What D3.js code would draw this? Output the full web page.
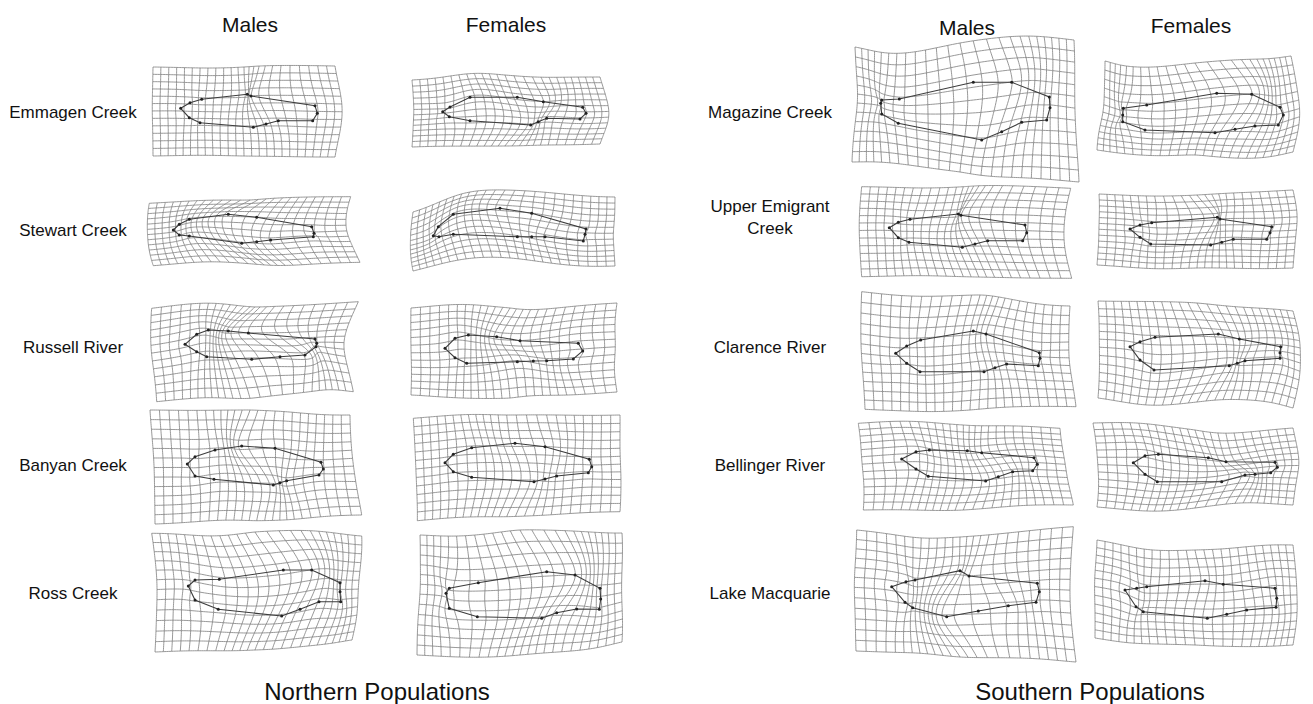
<!DOCTYPE html>
<html>
<head>
<meta charset="utf-8">
<script src="https://cdn.jsdelivr.net/npm/d3@7"></script>
<style>
  body { margin: 0; background: #fff; }
  svg { display: block; }
  text { font-family: "Liberation Sans", Arial, Helvetica, sans-serif; fill: #111; }
</style>
</head>
<body>
<svg id="fig" width="1313" height="704"></svg>
<script>
// ---------------------------------------------------------------------------
// Populations, sexes and region titles
// ---------------------------------------------------------------------------
const regionTitles = ["Northern Populations", "Southern Populations"];
const sexes = ["Males", "Females"];
const northPopulations = ["Emmagen Creek", "Stewart Creek", "Russell River", "Banyan Creek", "Ross Creek"];
const southPopulations = ["Magazine Creek", "Upper Emigrant Creek", "Clarence River", "Bellinger River", "Lake Macquarie"];
const southLabelLines = [["Magazine Creek"], ["Upper Emigrant", "Creek"], ["Clarence River"], ["Bellinger River"], ["Lake Macquarie"]];

// ---------------------------------------------------------------------------
// Landmark configurations (13 landmarks, clockwise from the snout tip:
// snout, upper snout, head, dorsal A, dorsal B, caudal top, caudal mid,
// caudal bottom, anal end, anal mid, anal origin, pelvic, lower head).
// Units: panel units, relative to the panel centre.
// Frames: deformation-grid outline points TL, TM, TR, BL, BM, BR.
// ---------------------------------------------------------------------------
const emmagenMales = [[-63.3,-3.7],[-54,-9.3],[-42.3,-12.7],[3.3,-17.7],[7,-16],[71,-6.3],[73.3,1.3],[68.7,8.7],[34.3,8.7],[22,12],[9.3,15.3],[-44,10.7],[-54.7,5.7]];
const emmagenMalesFrame = [[-91,-45],[0,-45],[91,-46],[-91,44],[0,44],[91,45]];
const emmagenFemales = [[-62.3,-0.3],[-55,-5],[-35,-14.7],[12.3,-14.7],[38.3,-10.3],[77.7,-4.7],[81,1.3],[75,7],[41.7,6.3],[33.3,9.7],[25.7,13],[-35,8.7],[-55.7,4.7]];
const emmagenFemalesFrame = [[-93,-32],[0,-37],[95,-35],[-93,35],[0,34],[95,32]];

const stewartMales = [[-70.7,0],[-64.7,-5.7],[-54.7,-10.7],[-15.7,-15.7],[12.7,-12.7],[67.7,-3.3],[70,3.3],[69.3,6.7],[26.7,10],[12.7,11.7],[-2.3,13.3],[-54.7,6],[-64.7,5]];
const stewartMalesFrame = [[-94.7,-26.7],[6,-30],[106.7,-33.3],[-90.7,35.7],[12.7,34.3],[116,32.3]];
const stewartFemales = [[-71.7,5.7],[-66.7,-3.3],[-51.7,-15.7],[-5,-21.7],[26.7,-16.7],[81,-1],[80,4.3],[78.3,11],[40,6.7],[26.7,6.7],[12.3,6.7],[-51.7,4.3],[-66,6.7]];
const stewartFemalesFrame = [[-92,-18],[0,-40],[110,-33],[-92,41],[5,28],[110,36]];

const russellMales = [[-59,-2.7],[-47.3,-12.7],[-35.7,-17],[-15.7,-16],[4.3,-14],[71,-8],[72.7,-3.7],[72,-0.3],[61,8],[36,9.7],[7.7,12.3],[-37.3,9.7],[-47.3,4.7]];
const russellMalesFrame = [[-92.3,-38.7],[6,-40.3],[114.3,-45.3],[-87.3,54.7],[6,51.3],[109.3,44.7]];
const russellFemales = [[-60,1.3],[-50,-8.7],[-36.7,-12],[-8.3,-10.3],[15,-6.3],[73.3,-3.7],[77.7,4],[68.3,12],[41.7,13.7],[28.3,14],[12.3,14.7],[-38.3,16.3],[-50,10.7]];
const russellFemalesFrame = [[-94,-39],[5,-39],[112,-44],[-94,48],[5,51],[112,45]];

const banyanMales = [[-56.7,-1],[-49,-8.3],[-29,-15],[-2.3,-19],[31,-16.7],[77,-2.7],[79.3,4],[75,10],[42.7,15.7],[36,17.7],[29.3,20],[-30,14.3],[-49,11]];
const banyanMalesFrame = [[-94,-55],[6,-55],[106,-50],[-89,59],[12.7,55.7],[117.7,50]];
const banyanFemales = [[-60,-2.3],[-51.7,-10.7],[-33.3,-17.3],[10,-21.7],[40,-18.3],[84.3,-5.7],[86.7,1.7],[83.3,7.7],[51.7,11],[40,14],[29,16.7],[-33.3,12.3],[-51.7,6.7]];
const banyanFemalesFrame = [[-91.7,-46.7],[1.7,-50],[115,-50],[-87.7,55.7],[1.7,51.7],[115,46.7]];

const rossMales = [[-55.7,-7],[-49,-13],[-24.7,-13.7],[39.3,-23],[67.7,-23],[96,-10.3],[96,-1.3],[96.7,8.7],[75,8.7],[56,16.3],[37.7,23],[-25.7,16.3],[-49,7]];
const rossMalesFrame = [[-92.3,-59.7],[11,-61],[117.7,-57],[-89,59],[11,57],[108,47]];
const rossFemales = [[-59,0.3],[-55.7,-4.7],[-26.7,-10.3],[41.7,-21.3],[70,-18],[95,-4.7],[95.7,6],[94.3,16.3],[71.7,16],[51.7,19.7],[36.7,25.3],[-27.7,23.7],[-55.7,15.3]];
const rossFemalesFrame = [[-85,-58],[15,-63],[117,-60],[-88,62],[15,62],[117,49]];

const magazineMales = [[-84.3,-8.7],[-83.3,-12],[-65.7,-13],[8.3,-29.7],[46.7,-29.7],[84.3,-15],[85,-4.3],[81.7,8],[56.7,10.3],[36.7,19.7],[16.7,28],[-66.7,11.3],[-83.3,2]];
const magazineMalesFrame = [[-110,-65],[-5,-69],[109,-72],[-113,50],[-5,60],[114,70]];
const magazineFemales = [[-72.3,3],[-71.7,-3.7],[-48.3,-7],[21.7,-18.7],[56.7,-17.7],[85,-4.7],[88.3,3],[83.3,13],[60,14],[40,17.3],[20,20.7],[-50,18],[-72.3,9.7]];
const magazineFemalesFrame = [[-90,-51],[0,-49],[96,-56],[-98,38],[0,43],[98,40]];

const upperEmigrantMales = [[-75.7,-2.3],[-66.7,-7.7],[-55,-10.7],[-6.7,-16],[-4,-14.7],[60,-5],[61.7,2.7],[57.7,10.7],[22.7,10.7],[10,14],[-2.7,17.3],[-56,12.3],[-66.7,7.7]];
const upperEmigrantMalesFrame = [[-103.3,-43.3],[-1.7,-43.3],[105.7,-41.7],[-103.3,46.7],[-1.7,46.7],[106.7,48.3]];
const upperEmigrantFemales = [[-65,-1],[-55,-5],[-43.3,-7.3],[22.3,-12.7],[25,-11],[76.7,-3.3],[75,2.7],[71.7,9.3],[38.3,9.3],[26.7,12.3],[15.7,15],[-44.3,14],[-55,7.3]];
const upperEmigrantFemalesFrame = [[-96,-36],[2,-35],[98,-40],[-98,35],[2,38],[98,38]];

const clarenceMales = [[-69.3,6.3],[-58.3,-1],[-44.3,-7],[8.3,-16],[21,-13],[74.3,5.7],[75,11.3],[73.3,18.7],[41.7,17],[30,20.7],[19,24.7],[-45,24.7],[-58.3,16.3]];
const clarenceMalesFrame = [[-103.3,-55.3],[15,-52],[105,-41],[-100,62.3],[5,63],[111,59.7]];
const clarenceFemales = [[-65,-0.3],[-55,-5.3],[-40,-9.7],[23.3,-13],[44.3,-8],[85.7,-0.3],[85,5.7],[85,11.3],[50,13.7],[42.3,16.3],[34.3,18.7],[-41,23],[-55,13]];
const clarenceFemalesFrame = [[-97,-46],[2,-44],[98,-36],[-97,51],[2,55],[98,61]];

const bellingerMales = [[-63.3,-6],[-49,-13.3],[-35.7,-15],[2.3,-14.3],[16.7,-12.3],[69,-7.3],[72.3,-0.7],[67.7,5.7],[47.7,6.7],[33.3,11.7],[20.7,16],[-36.7,11.3],[-49,4]];
const bellingerMalesFrame = [[-106.7,-41.7],[-1.7,-40],[95,-36.7],[-101.7,45],[-1.7,45],[108.3,40]];
const bellingerFemales = [[-61.7,-2.3],[-50,-9.3],[-36.7,-10.7],[13.3,-7.3],[31,-3.3],[80,-2.7],[82.3,2.3],[75.7,7.7],[60,9.3],[50,10],[26.7,16.7],[-37.7,16.7],[-50,9.3]];
const bellingerFemalesFrame = [[-102,-42],[0,-35],[98,-37],[-98,42],[0,43],[98,40]];

const lakeMacquarieMales = [[-73.3,-6.3],[-59,-11.3],[-50,-13],[-5,-22.3],[4,-17],[72.3,-9.7],[74.3,-1.3],[71,9.3],[43.3,12.7],[13.3,18],[-18.3,23.7],[-52.3,14.7],[-60,9.3]];
const lakeMacquarieMalesFrame = [[-108.3,-63],[-5,-56],[108.3,-66.3],[-109,58],[-5,64],[111,69]];
const lakeMacquarieFemales = [[-70,-3],[-58.3,-4.7],[-48.3,-6.3],[10,-12.3],[28.3,-8.7],[80,-4.7],[81.7,5.3],[81,14.3],[51.7,17],[31.7,21.3],[12.3,25.3],[-51.7,18.7],[-59,13.7]];
const lakeMacquarieFemalesFrame = [[-98,-53],[0,-43],[98,-48],[-100,45],[0,52],[98,52]];

// Panels: region index, row index, sex, landmarks, grid frame
const panels = [
  [0, 0, "Males", emmagenMales, emmagenMalesFrame], [0, 0, "Females", emmagenFemales, emmagenFemalesFrame],
  [0, 1, "Males", stewartMales, stewartMalesFrame], [0, 1, "Females", stewartFemales, stewartFemalesFrame],
  [0, 2, "Males", russellMales, russellMalesFrame], [0, 2, "Females", russellFemales, russellFemalesFrame],
  [0, 3, "Males", banyanMales, banyanMalesFrame], [0, 3, "Females", banyanFemales, banyanFemalesFrame],
  [0, 4, "Males", rossMales, rossMalesFrame], [0, 4, "Females", rossFemales, rossFemalesFrame],
  [1, 0, "Males", magazineMales, magazineMalesFrame], [1, 0, "Females", magazineFemales, magazineFemalesFrame],
  [1, 1, "Males", upperEmigrantMales, upperEmigrantMalesFrame], [1, 1, "Females", upperEmigrantFemales, upperEmigrantFemalesFrame],
  [1, 2, "Males", clarenceMales, clarenceMalesFrame], [1, 2, "Females", clarenceFemales, clarenceFemalesFrame],
  [1, 3, "Males", bellingerMales, bellingerMalesFrame], [1, 3, "Females", bellingerFemales, bellingerFemalesFrame],
  [1, 4, "Males", lakeMacquarieMales, lakeMacquarieMalesFrame], [1, 4, "Females", lakeMacquarieFemales, lakeMacquarieFemalesFrame]
].map(([region, row, sex, lm, frame]) => ({ region, row, sex, lm, frame }));

// ---------------------------------------------------------------------------
// Layout
// ---------------------------------------------------------------------------
const GRID_COLS = 24, GRID_ROWS = 12;
const colCenter = d3.scaleOrdinal().domain(["0Males", "0Females", "1Males", "1Females"]).range([244, 505, 965, 1195]);
const headerCenter = d3.scaleOrdinal().domain(["0Males", "0Females", "1Males", "1Females"]).range([250, 506, 967, 1191]);
const headerBase = d3.scaleOrdinal().domain(["0Males", "0Females", "1Males", "1Females"]).range([32, 32, 35, 33]);
const rowCenter = d3.scaleOrdinal().domain([0, 1, 2, 3, 4]).range([112, 230, 347, 465, 593]);
const labelCenter = d3.scaleOrdinal().domain([0, 1]).range([73, 770]);
const titleCenter = d3.scaleOrdinal().domain([0, 1]).range([377, 1090]);

const svg = d3.select("#fig");

// ---------------------------------------------------------------------------
// Thin-plate spline
// ---------------------------------------------------------------------------
function solveLinear(A, B) {
  const N = A.length, k = B[0].length;
  const M = A.map((row, i) => row.concat(B[i]));
  for (let c = 0; c < N; c++) {
    let p = c;
    for (let r = c + 1; r < N; r++) if (Math.abs(M[r][c]) > Math.abs(M[p][c])) p = r;
    [M[c], M[p]] = [M[p], M[c]];
    const piv = M[c][c];
    for (let r = 0; r < N; r++) {
      if (r === c) continue;
      const f = M[r][c] / piv;
      if (f === 0) continue;
      for (let j = c; j < N + k; j++) M[r][j] -= f * M[c][j];
    }
  }
  return M.map((row, i) => row.slice(N).map(v => v / row[i]));
}

function thinPlate(src, dst) {
  const n = src.length, N = n + 3;
  const U = r2 => (r2 < 1e-12 ? 0 : r2 * Math.log(r2));
  const A = Array.from({ length: N }, () => new Array(N).fill(0));
  for (let i = 0; i < n; i++) {
    for (let j = 0; j < n; j++) {
      const dx = src[i][0] - src[j][0], dy = src[i][1] - src[j][1];
      A[i][j] = U(dx * dx + dy * dy);
    }
    A[i][n] = A[n][i] = 1;
    A[i][n + 1] = A[n + 1][i] = src[i][0];
    A[i][n + 2] = A[n + 2][i] = src[i][1];
  }
  const B = Array.from({ length: N }, (_, i) => (i < n ? [dst[i][0], dst[i][1]] : [0, 0]));
  const W = solveLinear(A, B);
  return ([u, v]) => {
    let x = W[n][0] + W[n + 1][0] * u + W[n + 2][0] * v;
    let y = W[n][1] + W[n + 1][1] * u + W[n + 2][1] * v;
    for (let i = 0; i < n; i++) {
      const dx = u - src[i][0], dy = v - src[i][1];
      const k = U(dx * dx + dy * dy);
      x += W[i][0] * k;
      y += W[i][1] * k;
    }
    return [x, y];
  };
}

// Inverse of the bilinear map spanned by a frame's four corners -> grid units
function toGridUnits(p, frame) {
  const [TL, , TR, BL, , BR] = frame;
  let s = 0.5, t = 0.5;
  for (let it = 0; it < 30; it++) {
    const px = (1 - s) * (1 - t) * TL[0] + s * (1 - t) * TR[0] + (1 - s) * t * BL[0] + s * t * BR[0];
    const py = (1 - s) * (1 - t) * TL[1] + s * (1 - t) * TR[1] + (1 - s) * t * BL[1] + s * t * BR[1];
    const dsx = (1 - t) * (TR[0] - TL[0]) + t * (BR[0] - BL[0]);
    const dsy = (1 - t) * (TR[1] - TL[1]) + t * (BR[1] - BL[1]);
    const dtx = (1 - s) * (BL[0] - TL[0]) + s * (BR[0] - TR[0]);
    const dty = (1 - s) * (BL[1] - TL[1]) + s * (BR[1] - TR[1]);
    const det = dsx * dty - dsy * dtx;
    const ex = p[0] - px, ey = p[1] - py;
    s += (ex * dty - ey * dtx) / det;
    t += (dsx * ey - dsy * ex) / det;
  }
  return [s * GRID_COLS, t * GRID_ROWS];
}

// Consensus configuration: mean landmark position in grid units
const nLm = panels[0].lm.length;
const consensus = d3.range(nLm).map(i => {
  const pts = panels.map(pn => toGridUnits(pn.lm[i], pn.frame));
  return [d3.mean(pts, d => d[0]), d3.mean(pts, d => d[1])];
});
const frameConsensus = [[0, 0], [GRID_COLS / 2, 0], [GRID_COLS, 0], [0, GRID_ROWS], [GRID_COLS / 2, GRID_ROWS], [GRID_COLS, GRID_ROWS]];

// ---------------------------------------------------------------------------
// Panels
// ---------------------------------------------------------------------------
panels.forEach(pn => {
  const key = pn.region + pn.sex;
  const cx = colCenter(key), cy = rowCenter(pn.row);
  const x = d3.scaleLinear().domain([0, 100]).range([cx, cx + 100]);
  const y = d3.scaleLinear().domain([0, 100]).range([cy, cy + 100]);
  const warp = thinPlate(consensus.concat(frameConsensus), pn.lm.concat(pn.frame));
  const line = d3.line().x(d => x(d[0])).y(d => y(d[1]));

  const lines = [];
  const step = 0.2;
  for (let i = 0; i <= GRID_COLS; i++) lines.push(d3.range(0, GRID_ROWS + step / 2, step).map(v => warp([i, v])));
  for (let j = 0; j <= GRID_ROWS; j++) lines.push(d3.range(0, GRID_COLS + step / 2, step).map(u => warp([u, j])));

  const g = svg.append("g");
  g.selectAll("path.grid").data(lines).join("path")
    .attr("class", "grid")
    .attr("d", line)
    .attr("fill", "none")
    .attr("stroke", "#858585")
    .attr("stroke-width", 0.85);

  g.append("path")
    .attr("d", line(pn.lm.concat([pn.lm[0]])))
    .attr("fill", "none")
    .attr("stroke", "#3d3d3d")
    .attr("stroke-width", 1.1);

  g.selectAll("circle").data(pn.lm).join("circle")
    .attr("cx", d => x(d[0]))
    .attr("cy", d => y(d[1]))
    .attr("r", 1.5)
    .attr("fill", "#222");
});

// ---------------------------------------------------------------------------
// Text
// ---------------------------------------------------------------------------
[0, 1].forEach(region => {
  sexes.forEach(sex => {
    svg.append("text")
      .attr("x", headerCenter(region + sex))
      .attr("y", headerBase(region + sex))
      .attr("text-anchor", "middle")
      .style("font-size", "21px")
      .text(sex);
  });
  svg.append("text")
    .attr("x", titleCenter(region))
    .attr("y", 700)
    .attr("text-anchor", "middle")
    .style("font-size", "24px")
    .text(regionTitles[region]);
});

northPopulations.forEach((name, i) => {
  svg.append("text")
    .attr("x", labelCenter(0))
    .attr("y", rowCenter(i) + 6)
    .attr("text-anchor", "middle")
    .style("font-size", "17px")
    .text(name);
});

southLabelLines.forEach((linesOfText, i) => {
  const lh = 22;
  const top = rowCenter(i) + 6 - (linesOfText.length - 1) * lh / 2 - (linesOfText.length > 1 ? 13 : 0);
  const t = svg.append("text")
    .attr("text-anchor", "middle")
    .style("font-size", "17px");
  linesOfText.forEach((ln, k) => {
    t.append("tspan").attr("x", labelCenter(1)).attr("y", top + k * lh).text(ln);
  });
});
</script>
</body>
</html>
